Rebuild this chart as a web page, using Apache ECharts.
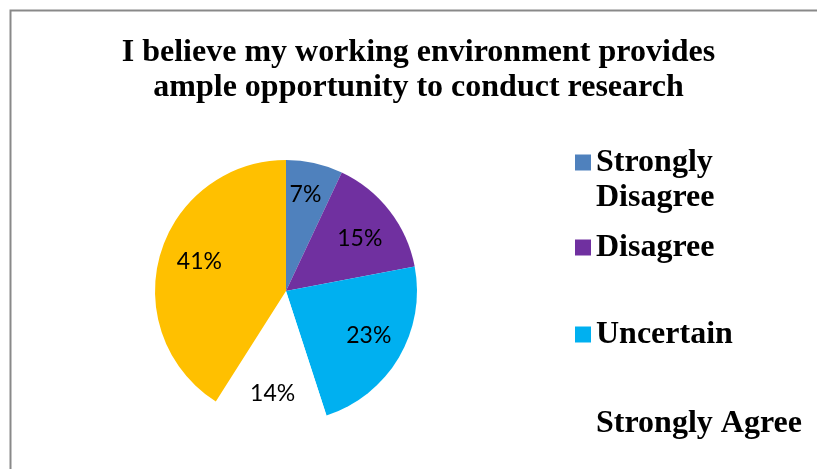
<!DOCTYPE html>
<html>
<head>
<meta charset="utf-8">
<script src="https://cdn.jsdelivr.net/npm/echarts@6/dist/echarts.min.js"></script>
<style>
  html, body { margin: 0; padding: 0; background: #fff; }
  #chart { width: 817px; height: 469px; }
</style>
</head>
<body>
<div id="chart"></div>
<script>
// Survey responses, in percent
const categories = ['Strongly Disagree', 'Disagree', 'Uncertain', 'Strongly Agree', 'Agree'];
const shares = [7, 15, 23, 14, 41];
const sliceColors = ['#4F81BD', '#7030A0', '#00B0F0', '#FFFFFF', '#FFC000'];
// Small nudges for the percentage labels (best-fit placement)
const labelOffsets = [[-2, 0], [-4, 8], [-2, -6], [-1, 5], [8, -2]];
// Legend rows (text shown for each entry; the leading blank line keeps the
// swatch level with the first line of a two-line entry)
const legendNames = ['Strongly Disagree', 'Disagree', 'Uncertain', 'Strongly Agree'];
const legendTexts = [' \nStrongly\nDisagree', 'Disagree', 'Uncertain', 'Strongly Agree'];
const legendTops = [105, 225, 312, 401];

const titleText = 'I believe my working environment provides\nample opportunity to conduct research';

const pieData = categories.map((name, i) => ({
  name: name,
  value: shares[i],
  itemStyle: { color: sliceColors[i] }
}));

const serifBold = { fontFamily: 'Liberation Serif', fontWeight: 'bold', color: '#000' };

const legends = legendNames.map((name, i) => ({
  orient: 'vertical',
  left: 570,
  top: legendTops[i],
  itemWidth: 16,
  itemHeight: 16,
  itemGap: 7,
  icon: 'rect',
  selectedMode: false,
  formatter: () => legendTexts[i],
  data: [{ name: name }],
  textStyle: Object.assign({}, serifBold, { fontSize: 32, lineHeight: 35 })
}));

const chart = echarts.init(document.getElementById('chart'), null, { renderer: 'canvas' });
chart.setOption({
  backgroundColor: '#fff',
  animation: false,
  title: {
    text: titleText,
    left: 413.5,
    top: 30,
    textAlign: 'center',
    textStyle: Object.assign({}, serifBold, { fontSize: 32, lineHeight: 35 })
  },
  legend: legends,
  graphic: [{
    type: 'rect',
    shape: { x: 10.5, y: 10.5, width: 900, height: 600 },
    style: { fill: 'none', stroke: '#898989', lineWidth: 2 },
    silent: true,
    z: -10
  }],
  series: [
    {
      type: 'pie',
      center: [286, 291],
      radius: 131,
      startAngle: 90,
      clockwise: true,
      silent: true,
      label: { show: false },
      labelLine: { show: false },
      data: pieData
    },
    {
      // transparent ring used only to place the percentage labels
      type: 'pie',
      center: [286, 291],
      radius: [60, 131],
      startAngle: 90,
      clockwise: true,
      silent: true,
      legendHoverLink: false,
      itemStyle: { color: 'rgba(0,0,0,0)', borderWidth: 0 },
      label: {
        show: true,
        position: 'inside',
        formatter: p => p.value + '%',
        fontFamily: 'Lato',
        fontSize: 23,
        color: '#000'
      },
      labelLine: { show: false },
      data: categories.map((name, i) => ({
        name: name,
        value: shares[i],
        label: { offset: labelOffsets[i] }
      }))
    }
  ]
});
</script>
</body>
</html>
